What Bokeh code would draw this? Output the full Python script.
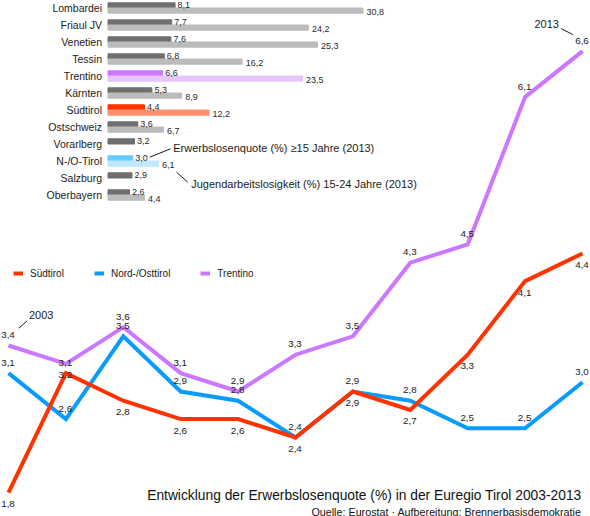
from bokeh.plotting import figure
from bokeh.models import Range1d, Legend, LegendItem, Label, ColumnDataSource
from bokeh.core.properties import value
from bokeh.embed import file_html
from bokeh.resources import INLINE

# ---------------- data: line chart (Erwerbslosenquote %, 2003-2013)
years = list(range(2003, 2014))
suedtirol = [1.8, 3.1, 2.8, 2.6, 2.6, 2.4, 2.9, 2.7, 3.3, 4.1, 4.4]
nordosttirol = [3.1, 2.6, 3.5, 2.9, 2.8, 2.4, 2.9, 2.8, 2.5, 2.5, 3.0]
trentino = [3.4, 3.2, 3.6, 3.1, 2.9, 3.3, 3.5, 4.3, 4.5, 6.1, 6.6]
series_names = ["Südtirol", "Nord-/Osttirol", "Trentino"]

# ---------------- data: bar chart (2013)
regions = ["Lombardei", "Friaul JV", "Venetien", "Tessin", "Trentino", "Kärnten",
           "Südtirol", "Ostschweiz", "Vorarlberg", "N-/O-Tirol", "Salzburg", "Oberbayern"]
quote_15plus = [8.1, 7.7, 7.6, 6.8, 6.6, 5.3, 4.4, 3.6, 3.2, 3.0, 2.9, 2.6]
youth_15_24 = [30.8, 24.2, 25.3, 16.2, 23.5, 8.9, 12.2, 6.7, None, 6.1, None, 4.4]

title_text = "Entwicklung der Erwerbslosenquote (%) in der Euregio Tirol 2003-2013"
source_text = "Quelle: Eurostat · Aufbereitung: Brennerbasisdemokratie"
note_quote = "Erwerbslosenquote (%) ≥15 Jahre (2013)"
note_youth = "Jugendarbeitslosigkeit (%) 15-24 Jahre (2013)"

# ---------------- styles
FONT = "Liberation Sans"
TXT = "#1a1a1a"
line_colors = {"Südtirol": "#ff3300", "Nord-/Osttirol": "#0a9bff", "Trentino": "#cc77ff"}
dark_default, light_default = "#6f6f6f", "#bcbcbc"
highlight = {"Trentino": ("#cc77ff", "#e8c4ff"),
             "Südtirol": ("#ff3300", "#ff9070"),
             "N-/O-Tirol": ("#66ccff", "#bde8ff")}
# label placement per point (style only): "a" above, "b" below
label_pos = {"Südtirol": ["b", "a", "b", "b", "b", "b", "b", "b", "b", "b", "b"],
             "Nord-/Osttirol": ["a"] * 11,
             "Trentino": ["a", "b", "a", "a", "a", "a", "a", "a", "a", "a", "a"]}

W, H = 590, 516
X_PX = 57.4           # px per year
X_PAD = 8             # px left/right of first/last year
Y_PX = 92.0           # px per percentage point
Y_REF_PX, Y_REF_V = 345.0, 3.4
X0, X1 = years[0] - X_PAD / X_PX, years[-1] + X_PAD / X_PX
Y1 = Y_REF_V + Y_REF_PX / Y_PX
Y0 = Y_REF_V - (H - Y_REF_PX) / Y_PX
BX_PX = 8.28          # px per bar unit
BX0 = 107.5           # px of bar zero
ROW_PX = 17.0
ROW0 = 7.5

p = figure(width=W, height=H, output_backend="svg", toolbar_location=None,
           x_range=Range1d(X0, X1), y_range=Range1d(Y0, Y1),
           x_axis_location=None, y_axis_location=None, min_border=0,
           outline_line_color=None, background_fill_color="white",
           border_fill_color="white")
p.grid.visible = False
p.extra_x_ranges = {"bx": Range1d(-BX0 / BX_PX, (W - BX0) / BX_PX)}
p.extra_y_ranges = {"by": Range1d((H - ROW0) / ROW_PX, -ROW0 / ROW_PX)}

# ---------------- bar chart
rows = list(range(len(regions)))
hb = 5.2 / ROW_PX
dark_cols = [highlight.get(r, (dark_default, light_default))[0] for r in regions]
light_cols = [highlight.get(r, (dark_default, light_default))[1] for r in regions]
p.hbar(y=[r - hb / 2 for r in rows], left=0, right=quote_15plus, height=hb,
       color=dark_cols, x_range_name="bx", y_range_name="by")
ly = [r + hb / 2 for r, v in zip(rows, youth_15_24) if v is not None]
lv = [v for v in youth_15_24 if v is not None]
lc = [c for c, v in zip(light_cols, youth_15_24) if v is not None]
p.hbar(y=ly, left=0, right=lv, height=hb, color=lc, x_range_name="bx", y_range_name="by")

def fmt(v):
    return f"{v:.1f}".replace(".", ",")

p.text(x=[0] * len(regions), y=rows, text=regions, x_offset=-6,
       text_align="right", text_baseline="middle", text_font=value(FONT),
       text_font_size="10.5px", text_color=TXT, x_range_name="bx", y_range_name="by")
p.text(x=quote_15plus, y=[r - hb / 2 for r in rows], text=[fmt(v) for v in quote_15plus],
       x_offset=2.5, y_offset=-0.5, text_align="left", text_baseline="middle",
       text_font=value(FONT), text_font_size="9px", text_color="#2a2a2a",
       x_range_name="bx", y_range_name="by")
p.text(x=lv, y=ly, text=[fmt(v) for v in lv], x_offset=3.5, y_offset=1,
       text_align="left", text_baseline="middle", text_font=value(FONT),
       text_font_size="9px", text_color="#2a2a2a", x_range_name="bx", y_range_name="by")

# bar-chart notes with leader lines (relative to N-/O-Tirol row)
ref_row = regions.index("N-/O-Tirol")
def bpt(dx, dy):
    return dx / BX_PX, ref_row + dy / ROW_PX
segs = [(bpt(41.8, -3.8), bpt(62.5, -12.2)), (bpt(68.5, 11.2), bpt(79.8, 21.2))]
p.segment(x0=[s[0][0] for s in segs], y0=[s[0][1] for s in segs],
          x1=[s[1][0] for s in segs], y1=[s[1][1] for s in segs],
          line_color=TXT, line_width=1, x_range_name="bx", y_range_name="by")
n1, n2 = bpt(65.2, -13.2), bpt(83.2, 22.8)
p.text(x=[n1[0], n2[0]], y=[n1[1], n2[1]], text=[note_quote, note_youth],
       text_align="left", text_baseline="middle", text_font=value(FONT),
       text_font_size="11px", text_color=TXT, x_range_name="bx", y_range_name="by")

# ---------------- line chart
renderers = {}
for name, vals in [("Trentino", trentino), ("Nord-/Osttirol", nordosttirol), ("Südtirol", suedtirol)]:
    renderers[name] = p.line(years, vals, line_color=line_colors[name], line_width=4,
                             line_join="miter")

for name, vals in [("Trentino", trentino), ("Nord-/Osttirol", nordosttirol), ("Südtirol", suedtirol)]:
    yoff = [-10.5 if s == "a" else 11.5 for s in label_pos[name]]
    src = ColumnDataSource(dict(x=years, y=vals, t=[fmt(v) for v in vals], yo=yoff))
    p.text(x="x", y="y", text="t", source=src, text_align="center", y_offset="yo",
           x_offset=-0.5, text_baseline="middle", text_font=value(FONT),
           text_font_size="9.8px", text_color=TXT)

# year notes
def mpt(xd, yd, dx, dy):
    return xd + dx / X_PX, yd - dy / Y_PX
a0 = (years[0], trentino[0])
a1 = (years[-1], trentino[-1])
s0 = (mpt(*a0, 10.3, -17.3), mpt(*a0, 18.7, -24.7))
s1 = (mpt(*a1, -21.3, -22.4), mpt(*a1, -9.3, -16.4))
p.segment(x0=[s0[0][0], s1[0][0]], y0=[s0[0][1], s1[0][1]],
          x1=[s0[1][0], s1[1][0]], y1=[s0[1][1], s1[1][1]], line_color=TXT, line_width=1)
t0 = mpt(*a0, 20.5, -31)
t1 = mpt(*a1, -48, -27.4)
p.text(x=[t0[0], t1[0]], y=[t0[1], t1[1]], text=[str(years[0]), str(years[-1])],
       text_align="left", text_baseline="middle", text_font=value(FONT),
       text_font_size="11px", text_color=TXT)

# legend
legend = Legend(items=[LegendItem(label=n, renderers=[renderers[n]]) for n in series_names],
                orientation="horizontal", location=(13, 237), padding=0, margin=0,
                spacing=30, glyph_width=10, glyph_height=12, label_height=12,
                label_standoff=7, label_text_font=FONT, label_text_font_size="10px",
                label_text_color=TXT, background_fill_alpha=0, border_line_alpha=0)
p.add_layout(legend)

# titles
p.add_layout(Label(x=581, y=21, x_units="screen", y_units="screen", text=title_text,
                   text_align="right", text_baseline="middle", text_font=FONT,
                   text_font_size="13.8px", text_color="#111111"))
p.add_layout(Label(x=581, y=5, x_units="screen", y_units="screen", text=source_text,
                   text_align="right", text_baseline="middle", text_font=FONT,
                   text_font_size="10.75px", text_color="#111111"))

open("out.html", "w").write(file_html(p, INLINE))
